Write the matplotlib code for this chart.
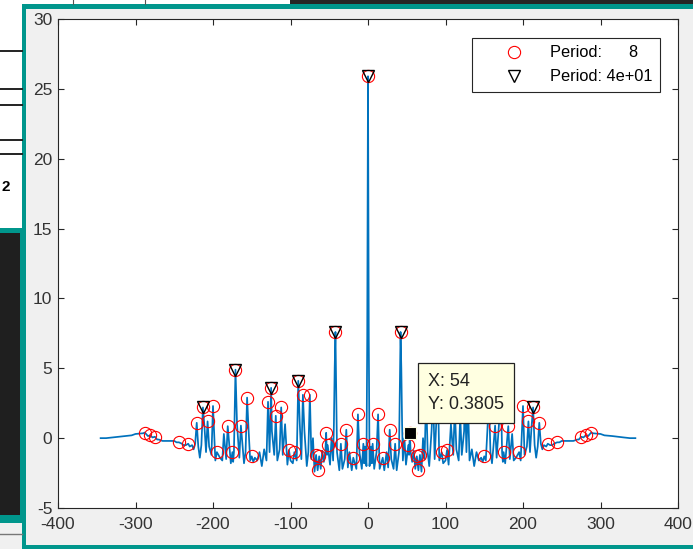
import numpy as np
import matplotlib
matplotlib.use('Agg')
import matplotlib.pyplot as plt
from matplotlib.patches import Rectangle
from matplotlib.lines import Line2D

# ---------------- data ----------------
lags_neg = [-345, -338, -330, -322, -315, -305, -300, -290, -288, -284, -281, -278, -275, -272, -270,
            -265, -260, -255, -250, -247, -244, -240, -238, -235, -232, -230, -227, -225, -223, -221,
            -219, -217, -215, -213, -211, -209, -207, -205, -202, -200, -197, -195, -191, -188, -186,
            -183, -181, -177, -175, -174, -173, -171, -169, -166, -164, -162, -160, -158, -156, -154,
            -152, -150, -148, -146, -143, -140, -137, -134, -131, -129, -127, -125, -124, -121, -119,
            -117, -114, -112, -110, -107, -104, -102, -100, -97, -95, -92, -90, -88, -86, -84, -82,
            -79, -77, -75, -73, -71, -69, -67, -65, -63, -61, -59, -57, -55, -54, -53, -52, -49, -47,
            -45, -44, -43, -42, -40, -37, -35, -33, -30, -28, -26, -24, -21, -19, -17, -15, -13, -11,
            -8, -6, -5, -4, -2, -1]
vals_neg = [0.0, 0.0, 0.05, 0.1, 0.15, 0.2, 0.3, 0.35, 0.4, 0.15, 0.2, 0.05, 0.1, -0.1, -0.1,
            -0.2, -0.2, -0.2, -0.2, -0.3, -0.3, -0.4, -0.5, -0.5, -0.4, -0.6, -0.5, -0.8, -0.4, 1.1,
            -0.6, -1.4, -0.5, 2.2, 0.8, -1.0, 1.2, -0.6, -1.2, 2.3, -1.6, -1.0, -1.4, -1.6, 0.3,
            -1.5, 0.86, -1.8, -1.0, -1.7, -1.0, 4.9, 1.0, -1.4, 0.9, -0.5, -1.8, -1.0, 2.9, 0.5,
            -1.6, -1.3, -1.7, -1.4, -1.6, -1.0, -2.0, -0.8, -1.6, 2.6, -1.0, 3.6, 0.5, -1.2, 1.6,
            -1.6, -0.8, 2.2, -1.2, 1.0, -1.9, -0.85, -1.6, -1.8, -1.0, -1.6, 4.1, 1.0, -1.5, 3.1, 0.5,
            -2.0, -1.0, 3.1, -1.5, 0.0, -2.4, -1.2, -2.3, -1.3, -2.2, -0.9, -1.7, -1.0, 0.38, -1.2, -0.5, -1.9, 0.0,
            -1.6, 1.0, 5.0, 7.6, -1.0, -2.3, -0.4, -2.2, -1.5, 0.6, -2.1, -1.0, -2.3, -1.4, -1.8, -2.2, 1.7, -1.0,
            -2.2, -0.4, -1.8, -0.6, -2.0, 7.1]

lags_pos = [0, 1, 2, 4, 5, 6, 8, 11, 13, 15, 17, 19, 21, 24, 26, 28, 30, 33, 35, 37, 40, 42, 43, 44, 45,
            47, 49, 52, 53, 54, 55, 57, 59, 61, 63, 65, 67, 69, 71, 73, 75, 77, 79, 82, 84, 86, 88, 90,
            92, 95, 97, 100, 102, 104, 107, 110, 112, 114, 117, 119, 121, 124, 125, 127, 129, 131, 134,
            137, 140, 143, 146, 148, 150, 152, 154, 156, 158, 160, 162, 164, 166, 169, 171, 173, 174,
            175, 177, 181, 183, 186, 188, 191, 195, 197, 200, 202, 205, 207, 209, 211, 213, 215, 217,
            219, 221, 223, 225, 227, 230, 232, 235, 238, 240, 244, 247, 250, 255, 260, 265, 270, 272,
            275, 278, 281, 284, 288, 290, 300, 305, 315, 322, 330, 338, 345]
vals_pos = [25.9, 7.1, -2.0, -0.6, -1.8, -0.4, -2.2, -1.0, 1.7, -2.2, -1.8, -1.4, -2.3, -1.0, -2.1, 0.6,
            -1.5, -2.2, -0.4, -2.3, -1.0, 7.6, 5.0, 1.0, -1.6, 0.0, -1.9, -0.5, -1.2, 0.38, -1.0, -1.7,
            -0.9, -2.2, -1.3, -2.3, -1.2, -2.4, 0.0, -1.5, 3.1, -1.0, -2.0, 0.5, 3.1, -1.5, 1.0, 4.1,
            -1.6, -1.0, -1.8, -1.6, -0.85, -1.9, 1.0, -1.2, 2.2, -0.8, -1.6, 1.6, -1.2, 0.5, 3.6, -1.0,
            2.6, -1.6, -0.8, -2.0, -1.0, -1.6, -1.4, -1.7, -1.3, -1.6, 0.5, 2.9, -1.0, -1.8, -0.5, 0.9,
            -1.4, 1.0, 4.9, -1.0, -1.7, -1.0, -1.8, 0.86, -1.5, 0.3, -1.6, -1.4, -1.0, -1.6, 2.3, -1.2,
            -0.6, 1.2, -1.0, 0.8, 2.2, -0.5, -1.4, -0.6, 1.1, -0.4, -0.8, -0.5, -0.6, -0.4, -0.5, -0.5,
            -0.4, -0.3, -0.3, -0.2, -0.2, -0.2, -0.2, -0.1, -0.1, 0.1, 0.05, 0.2, 0.15, 0.4, 0.35, 0.3,
            0.2, 0.15, 0.1, 0.05, 0.0, 0.0]

circle_lags = [-288, -281, -275, -244, -232, -221, -213, -207, -200, -195, -181, -175, -171, -164, -156,
               -150, -129, -125, -119, -112, -102, -95, -90, -84, -75, -67, -65, -63, -54, -52, -42, -35,
               -28, -19, -13, -6, 0, 6, 13, 19, 28, 35, 42, 52, 54, 63, 65, 67, 75, 84, 90, 95, 102, 112,
               119, 125, 129, 150, 156, 164, 171, 175, 181, 195, 200, 207, 213, 221, 232, 244, 275, 281, 288]
triangle_lags = [-213, -171, -125, -90, -42, 0, 42, 90, 125, 171, 213]
tip_lag = 54
tip_label = "X: 54\nY: 0.3805"
legend_labels = ["Period:      8", "Period: 4e+01"]
xticks = [-400, -300, -200, -100, 0, 100, 200, 300, 400]
yticks = [-5, 0, 5, 10, 15, 20, 25, 30]

lags = np.array(lags_neg + lags_pos, dtype=float)
vals = np.array(vals_neg + vals_pos, dtype=float)

# ---------------- figure & surrounding UI ----------------
W, H = 693, 549
fig = plt.figure(figsize=(W / 100, H / 100), dpi=100)
fig.patch.set_facecolor('#f0f0f0')
TEAL = '#00968c'

def rect(x, y, w, h, color, z=-5):
    fig.add_artist(Rectangle((x / W, 1 - (y + h) / H), w / W, h / H, transform=fig.transFigure,
                             facecolor=color, edgecolor='none', zorder=z))

def line(x0, y0, x1, y1, color, lw=1.0, z=-4):
    fig.add_artist(Line2D([x0 / W, x1 / W], [1 - y0 / H, 1 - y1 / H], transform=fig.transFigure,
                          color=color, lw=lw, zorder=z))

rect(0, 0, 693, 549, '#f0f0f0', -6)
rect(0, 0, 22, 228, 'white')
for yy in [51, 89, 105, 140, 154]:
    line(0, yy, 22, yy, '#222222', 1.4)
fig.text(1 / W, 1 - 187 / H, "2", fontsize=11, fontweight='bold', va='center', ha='left',
         family='Liberation Sans', zorder=-3)
rect(0, 228, 22, 295, TEAL)
rect(0, 233, 20, 282, '#1f1f1f')
line(0, 534, 22, 534, '#777777', 1.0)
rect(0, 0, 290, 4, 'white')
rect(290, 0, 403, 4, '#262626')
line(73, 0, 73, 4, '#555555', 0.8)
line(145, 0, 145, 4, '#555555', 0.8)
rect(22, 4, 671, 545, TEAL)
rect(26, 9, 667, 536, '#f0f0f0')

# ---------------- axes ----------------
ax = fig.add_axes([58 / W, 1 - 508 / H, 620 / W, 489 / H])
ax.set_facecolor('white')
ax.plot(lags, vals, color='#0072BD', lw=1.25, zorder=2)

cy = np.interp(circle_lags, lags, vals)
ty = np.interp(triangle_lags, lags, vals)
ax.plot(circle_lags, cy, 'o', ls='none', mfc='none', mec='#ff0000', ms=8.8, mew=0.8, zorder=3,
        label=legend_labels[0])
ax.plot(triangle_lags, ty, 'v', ls='none', mfc='none', mec='black', ms=8.5, mew=1.0, zorder=4,
        label=legend_labels[1])

ax.set_xlim(-400, 400)
ax.set_ylim(-5, 30)
ax.set_xticks(xticks)
ax.set_yticks(yticks)
ax.set_xticklabels([str(t) for t in xticks])
ax.set_yticklabels([str(t) for t in yticks])
AX_COL = '#262626'
for s in ax.spines.values():
    s.set_color(AX_COL)
    s.set_linewidth(0.8)
ax.tick_params(direction='in', top=True, right=True, length=4, width=0.8, colors=AX_COL,
               labelsize=12.5)
ax.tick_params(axis='x', pad=6.5)
ax.tick_params(axis='y', pad=4)
for lab in ax.get_xticklabels() + ax.get_yticklabels():
    lab.set_family('Liberation Sans')
    lab.set_color('#333333')

leg = ax.legend(loc='upper right', bbox_to_anchor=((660 - 58) / 620, (508 - 38) / 489),
                borderaxespad=0, frameon=True, fancybox=False, edgecolor='#262626',
                prop={'family': 'Liberation Sans', 'size': 11.8}, handlelength=4.3,
                handletextpad=0.05, borderpad=0.45, labelspacing=0.55, framealpha=1)
leg.get_frame().set_linewidth(0.8)
leg.set_zorder(10)

tip_y = float(np.interp(tip_lag, lags, vals))
ax.plot([tip_lag], [tip_y], 's', ms=9, mfc='black', mec='#ffffe1', mew=0.8, zorder=8)
ax.annotate(tip_label, xy=(tip_lag, tip_y), xytext=(18, 20), textcoords='offset pixels',
            ha='left', va='bottom', fontsize=13, family='Liberation Sans', color='#222222',
            linespacing=1.45, zorder=9,
            bbox=dict(boxstyle='square,pad=0.55', fc='#ffffe1', ec='#222222', lw=0.9))

fig.savefig('out.png', dpi=100, facecolor=fig.get_facecolor())
